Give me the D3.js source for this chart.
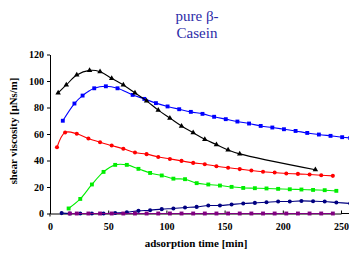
<!DOCTYPE html>
<html>
<head>
<meta charset="utf-8">
<script src="https://cdn.jsdelivr.net/npm/d3@7/dist/d3.min.js"></script>
<style>
  body { margin: 0; background: #fff; }
  svg { display: block; }
  text { font-family: "Liberation Serif", "Times New Roman", serif; }
</style>
</head>
<body>
<div id="chart"></div>
<script>
//~~~~~~~~~~~~~~~~~~DATA
let blackX = [7, 14, 23, 34, 43, 53, 63, 73, 83, 93, 103, 113, 123, 133, 143, 153, 163, 228];
let blackY = [91, 97, 104.5, 108, 107, 102, 97, 91, 85, 78, 72, 66, 61, 56, 52, 48, 45, 33];

let blueX = [11, 21, 28, 38, 48, 58, 71, 81, 91, 101, 111, 121, 131, 141, 151, 161, 171, 181, 191, 201, 211, 221, 231, 241, 251, 258];
let blueY = [70, 83, 89, 94.5, 96, 94.5, 89.5, 86.5, 83.3, 80.8, 78.7, 76.7, 75.2, 73, 71.2, 69.4, 67.9, 66.1, 64.9, 63.6, 62.3, 60.8, 59.6, 58.6, 57.6, 57];

let redX = [6, 13, 23, 33, 43, 53, 63, 73, 83, 93, 103, 113, 123, 133, 143, 153, 163, 173, 183, 193, 203, 213, 223, 233, 243];
let redY = [50, 61.2, 60.2, 56.6, 53.8, 51.3, 48.8, 46, 44.8, 42.7, 41.2, 39.7, 38.2, 37.2, 35.7, 34.5, 33.5, 32.4, 31.5, 30.9, 30.2, 29.9, 29.4, 28.9, 28.4];

let greenX = [16, 26, 36, 46, 56, 66, 76, 86, 96, 106, 116, 126, 136, 146, 156, 166, 176, 186, 196, 206, 216, 226, 236, 246];
let greenY = [3.8, 11, 21.9, 31.4, 36.7, 36.7, 33.7, 30.6, 28.7, 26.3, 25.9, 22.9, 21.9, 21.1, 20.1, 19.3, 19.1, 18.9, 18.6, 18.3, 18.1, 17.8, 17.6, 17.1];

let navyX = [10, 17, 26, 36, 46, 56, 66, 76, 86, 96, 106, 116, 126, 136, 146, 156, 166, 176, 186, 196, 206, 216, 226, 236, 246, 258];
let navyY = [0.3, 0, 0, 0, 0, 0.4, 1, 2, 2.5, 3.3, 3.8, 4.5, 5, 6, 6.1, 6.8, 7.5, 8, 8.5, 9, 9.1, 9.5, 9.3, 9, 8.3, 7.6];

let purpleX = [17, 23, 33, 43, 53, 63, 73, 83, 93, 103, 113, 123, 133, 143, 153, 163, 173, 183, 193, 203, 213, 223, 233, 243];
let purpleY = purpleX.map(function() { return 0; });

let xTicks = [0, 50, 100, 150, 200, 250];
let yTicks = [0, 20, 40, 60, 80, 100, 120];

//~~~~~~~~~~~~~~~~~~VARIABLES
let width = 349;
let height = 253;

let series = [
  { xs: blueX,   ys: blueY,   color: '#0000ff', shape: 'square' },
  { xs: blackX,  ys: blackY,  color: '#000000', shape: 'triangle' },
  { xs: redX,    ys: redY,    color: '#ff0000', shape: 'circle' },
  { xs: greenX,  ys: greenY,  color: '#00ee00', shape: 'square' },
  { xs: navyX,   ys: navyY,   color: '#000080', shape: 'circle' },
  { xs: purpleX, ys: purpleY, color: '#800080', shape: 'square' }
];

let x = d3.scaleLinear().domain([0, 250]).range([50, 341]);
let y = d3.scaleLinear().domain([0, 120]).range([213.5, 54.5]);

let svg = d3.select('#chart')
  .append('svg')
  .attr('width', width)
  .attr('height', height);

//title
let title = svg.append('text')
  .attr('x', 197)
  .attr('text-anchor', 'middle')
  .style('font-size', '15px')
  .style('fill', '#2b2ba8');
title.append('tspan').attr('x', 197).attr('y', 21).text('pure β-');
title.append('tspan').attr('x', 197).attr('y', 38).text('Casein');

//y axis, ticks pointing out
let yAxis = svg.append('g')
  .attr('transform', 'translate(' + x(0) + ',0)')
  .call(d3.axisLeft(y).tickValues(yTicks).tickSize(3).tickSizeOuter(0));

//x axis, ticks pointing up
let xAxis = svg.append('g')
  .attr('transform', 'translate(0,' + y(0) + ')')
  .call(d3.axisBottom(x).tickValues(xTicks).tickSize(-3).tickSizeOuter(0));

//the axis line keeps going to the right edge
xAxis.append('line')
  .attr('x1', x(250)).attr('x2', width)
  .attr('stroke', '#000');

//small tick below origin
svg.append('line')
  .attr('x1', x(0)).attr('x2', x(0))
  .attr('y1', y(0)).attr('y2', y(0) + 3)
  .attr('stroke', '#000');

svg.selectAll('.tick text')
  .style('font-size', '10px')
  .style('font-weight', 'bold')
  .style('font-family', '"Liberation Serif", "Times New Roman", serif');
yAxis.selectAll('.tick text').attr('x', -6);
xAxis.selectAll('.tick text').attr('y', 9).attr('dy', '0.71em');
svg.selectAll('.domain').attr('stroke', '#000');

//axis titles
svg.append('text')
  .attr('x', 196)
  .attr('y', 247)
  .attr('text-anchor', 'middle')
  .style('font-size', '11px')
  .style('font-weight', 'bold')
  .text('adsorption time [min]');

svg.append('text')
  .attr('transform', 'translate(17,131) rotate(-90)')
  .attr('text-anchor', 'middle')
  .style('font-size', '10.8px')
  .style('font-weight', 'bold')
  .text('shear viscosity [μNs/m]');

//lines + markers
let line = d3.line()
  .x(function(d) { return x(d[0]); })
  .y(function(d) { return y(d[1]); })
  .curve(d3.curveCatmullRom.alpha(0.5));

let plot = svg.append('g');

series.forEach(function(s) {
  let pts = s.xs.map(function(v, i) { return [v, s.ys[i]]; });

  plot.append('path')
    .datum(pts)
    .attr('d', line)
    .attr('fill', 'none')
    .attr('stroke', s.color)
    .attr('stroke-width', 1.1);

  let sym = s.shape === 'square' ? d3.symbolSquare
          : s.shape === 'triangle' ? d3.symbolTriangle
          : d3.symbolCircle;
  let size = s.shape === 'square' ? 15 : s.shape === 'triangle' ? 13 : 13;

  plot.selectAll(null)
    .data(pts)
    .enter()
    .append('path')
    .attr('d', d3.symbol().type(sym).size(size))
    .attr('transform', function(d) { return 'translate(' + x(d[0]) + ',' + y(d[1]) + ')'; })
    .attr('fill', s.color);
});
</script>
</body>
</html>
